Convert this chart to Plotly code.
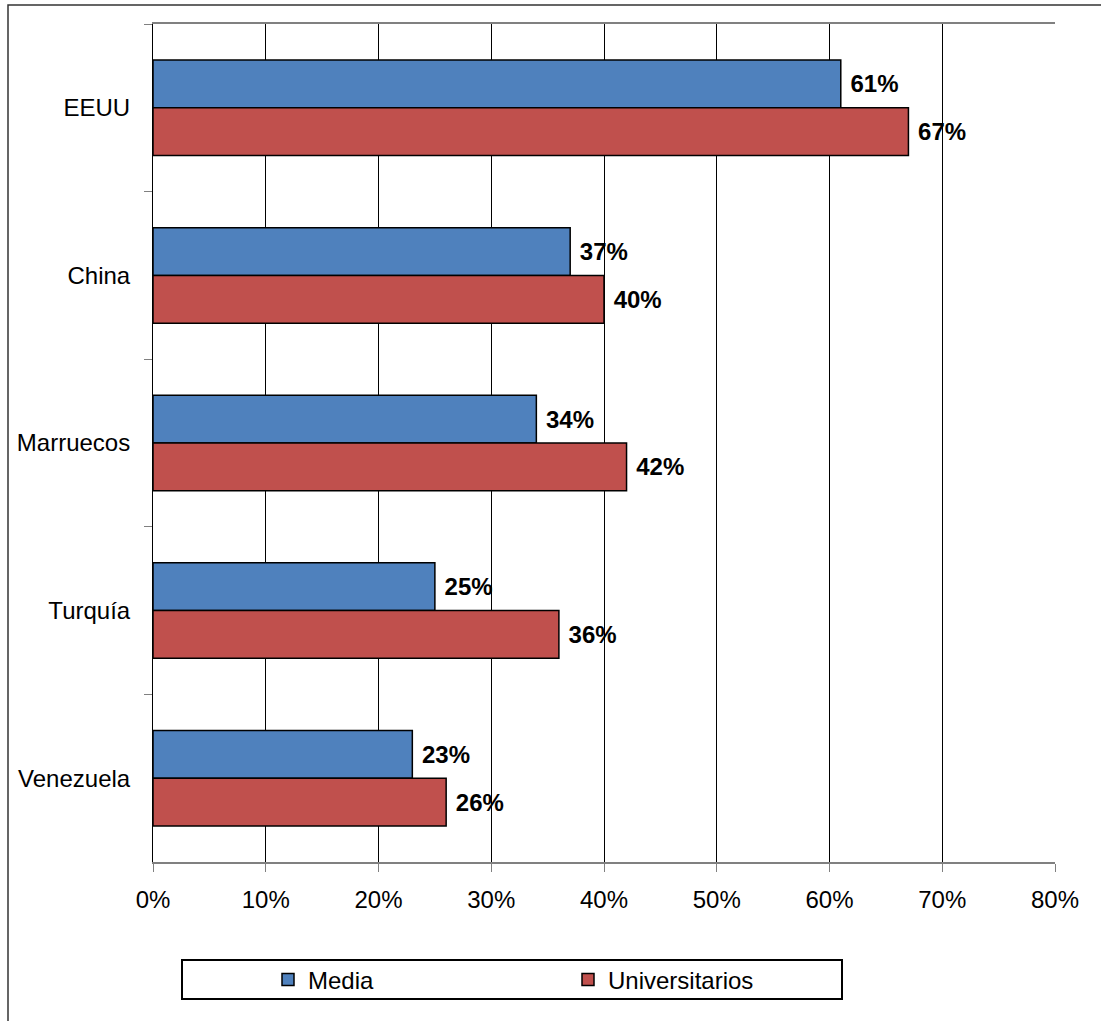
import plotly.graph_objects as go

categories = ["EEUU", "China", "Marruecos", "Turquía", "Venezuela"]
media = [0.61, 0.37, 0.34, 0.25, 0.23]
universitarios = [0.67, 0.40, 0.42, 0.36, 0.26]
x_ticks = [0, 0.1, 0.2, 0.3, 0.4, 0.5, 0.6, 0.7, 0.8]
x_ticklabels = ["0%", "10%", "20%", "30%", "40%", "50%", "60%", "70%", "80%"]

W, H = 1101, 1021
L, R, T, B = 153, 46, 24, 159
pw, ph = W - L - R, H - T - B

def px(x):
    return (x - L) / pw

def py(y):
    return (H - B - y) / ph

font_family = "Liberation Sans, Arial, sans-serif"
FS = 24

fig = go.Figure()
fig.add_trace(go.Bar(
    y=categories, x=media, name="Media", orientation="h",
    marker=dict(color="#4F81BD", line=dict(color="#000000", width=1.5)),
    text=[f"{round(v*100)}%" for v in media], texttemplate=" %{text}",
    textposition="outside",
    textfont=dict(family=font_family, size=FS, color="#000000", weight="bold"),
    cliponaxis=False,
))
fig.add_trace(go.Bar(
    y=categories, x=universitarios, name="Universitarios", orientation="h",
    marker=dict(color="#C0504D", line=dict(color="#000000", width=1.5)),
    text=[f"{round(v*100)}%" for v in universitarios], texttemplate=" %{text}",
    textposition="outside",
    textfont=dict(family=font_family, size=FS, color="#000000", weight="bold"),
    cliponaxis=False,
))

fig.update_layout(
    width=W, height=H,
    margin=dict(l=L, r=R, t=T, b=B),
    paper_bgcolor="white", plot_bgcolor="white",
    barmode="group", bargap=0.43, bargroupgap=0,
    font=dict(family=font_family, size=FS, color="#000000"),
    showlegend=True,
    legend=dict(
        orientation="h", x=px(268), xanchor="left", y=py(980), yanchor="middle",
        entrywidth=255, entrywidthmode="pixels", traceorder="normal",
        bgcolor="rgba(0,0,0,0)", borderwidth=0,
        font=dict(family=font_family, size=FS, color="#000000"),
    ),
    xaxis=dict(
        range=[0, 0.8], tickvals=x_ticks, ticktext=x_ticklabels,
        showgrid=True, gridcolor="#000000", gridwidth=1,
        showline=True, linecolor="#808080", linewidth=2, mirror=True,
        ticks="outside", ticklen=8, tickcolor="#808080", tickwidth=1,
        zeroline=False, fixedrange=True,
        tickfont=dict(family=font_family, size=FS, color="#000000"),
        ticklabelstandoff=7,
    ),
    yaxis=dict(
        categoryorder="array", categoryarray=categories, autorange="reversed",
        showline=True, linecolor="#000000", linewidth=1,
        ticks="outside", ticklen=8, tickcolor="#808080", tickwidth=1,
        tickson="boundaries", showgrid=False, zeroline=False,
        tickfont=dict(family=font_family, size=FS, color="#000000"),
        ticklabelstandoff=17, fixedrange=True,
    ),
    shapes=[
        dict(type="rect", xref="paper", yref="paper",
             x0=px(8), x1=px(1110), y0=py(5), y1=py(1030),
             line=dict(color="#333333", width=1.5), fillcolor="rgba(0,0,0,0)", layer="below"),
        dict(type="rect", xref="paper", yref="paper",
             x0=px(182), x1=px(842), y0=py(960), y1=py(999),
             line=dict(color="#000000", width=2), fillcolor="rgba(0,0,0,0)"),
    ],
)

fig.write_html("out.html", config={"displayModeBar": False},
               post_script="document.body.style.margin='0px';")
